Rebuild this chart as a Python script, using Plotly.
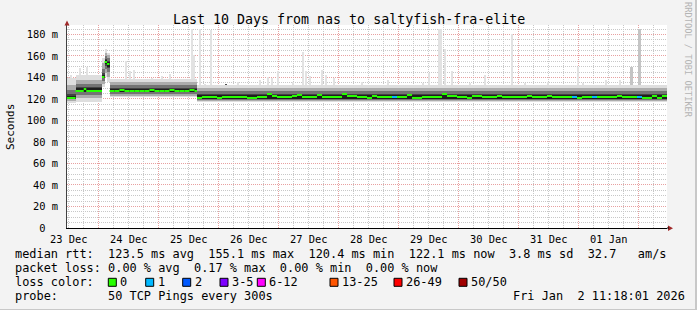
import plotly.graph_objects as go
import pandas as pd

# ---------------- data (hours after 2025-12-23 11:18:01) ----------------
START = "2025-12-23 11:18:01"
SPAN_H = 240

median_start_h = [0, 3.4, 6.7, 7.7, 14, 15, 16] + list(range(17, 52, 2)) + list(range(52, 240, 2))
median_ms = (
    [120.9, 127.35, 129.2, 127.35, 140.4, 154.3, 152.5]
    + [127.35, 127.35, 128.3, 127.35, 127.35, 127.35, 127.35, 127.35, 128.3, 127.35, 127.35,
       127.35, 128.3, 127.35, 127.35, 127.35, 128.3, 127.35]
    + [120.9, 121.8, 121.8, 121.8, 120.9, 121.8, 121.8, 121.8, 121.8, 121.8,
       120.9, 120.9, 121.8, 121.8, 124.6, 122.7, 121.8, 121.8, 121.8, 122.7,
       123.7, 121.8, 121.8, 121.8, 123.7, 121.8, 121.8, 121.8, 121.8, 124.6,
       122.7, 122.7, 121.8, 121.8, 120.9, 122.7, 121.8, 121.8, 121.8, 121.8,
       121.8, 121.8, 123.7, 120.9, 120.9, 121.8, 121.8, 121.8, 121.8, 124.6,
       122.7, 122.7, 121.8, 121.8, 120.9, 122.7, 122.7, 121.8, 121.8, 121.8,
       122.7, 121.8, 121.8, 121.8, 121.8, 121.8, 122.7, 121.8, 121.8, 121.8,
       122.7, 121.8, 121.8, 121.8, 121.8, 121.8, 120.9, 121.8, 121.8, 121.8,
       121.8, 121.8, 121.8, 121.8, 122.7, 121.8, 121.8, 121.8, 121.8, 120.9,
       120.9, 122.7, 120.9, 122.7]
)
loss1_start_h = [130, 202, 210, 228]   # bins with 1 lost ping

smoke_start_h = [0, 3.4, 14, 15, 16, 17, 52]
smoke_min = [116.5, 117.5, 131, 140, 136, 121.5, 117.5]
smoke_p10 = [118, 121, 134, 144, 140, 123, 118.5]
smoke_p25 = [119.5, 123.5, 137, 148, 145, 124.5, 119.3]
smoke_p40 = [120, 126, 139, 151, 149, 126, 120]
smoke_p45 = [120.3, 126.5, 139.5, 152.5, 150, 126.5, 120.3]
smoke_p55 = [123, 130, 142, 156, 154, 129.5, 123.8]
smoke_p60 = [124.5, 131, 144, 157.5, 155, 130.5, 125]
smoke_p75 = [128.5, 134, 148, 160, 158, 133, 127.8]
smoke_p90 = [133, 137.5, 153, 163, 161, 136, 130.2]
smoke_max = [139, 142, 158, 166, 163, 138.5, 133]

spike_h = [1.6, 5.2, 8, 23.6, 25.2, 26.8, 34, 38, 41.2, 45.2, 50, 50.8, 53.2, 55.2, 57.6, 63.6,
           68.4, 77.2, 80.4, 82, 84.4, 90.4, 94.4, 95.6, 97.2, 102, 103.6, 106.8, 118, 128.4,
           142.4, 144.8, 148.8, 149.6, 151.2, 154, 161.2, 167.2, 178, 183.2, 192.4, 204.4,
           206.4, 215.6, 221.2, 225.8, 229]
spike_top = [142.5, 149, 150, 155, 146, 147, 139, 141, 143, 138, 185, 161, 185, 134, 184, 134,
             136, 138, 140, 139, 146, 136, 164, 146, 141, 147, 142, 139, 136, 138,
             135, 144, 185, 185, 166, 146, 135, 142.5, 180, 135, 136, 150,
             135, 138, 138, 150, 185]
spike_kind = ["l"] * 15 + ["d"] + ["l"] * 29 + ["m", "m"]

loss_labels = ["0", "1", "2", "3-5", "6-12", "13-25", "26-49", "50/50"]
loss_colors = ["#26ff00", "#00b8ff", "#0059ff", "#7e00ff", "#ff00ff", "#ff5500", "#ff0000", "#a10000"]

y_tick_vals = [0, 20, 40, 60, 80, 100, 120, 140, 160, 180]
y_tick_text = ["0\u00a0\u00a0"] + [f"{v} m" for v in y_tick_vals[1:]]

title = "Last 10 Days from nas to saltyfish-fra-elite"
legend_lines = [
    "median rtt:  123.5 ms avg  155.1 ms max  120.4 ms min  122.1 ms now  3.8 ms sd  32.7   am/s",
    "packet loss: 0.00 % avg  0.17 % max  0.00 % min  0.00 % now",
    "loss color:",
    "probe:       50 TCP Pings every 300s",
]
stamp = "Fri Jan  2 11:18:01 2026"

# ---------------- geometry helpers ----------------
W, H = 697, 310
L, R, T, B = 67, 30, 25, 82
PW, PH = W - L - R, H - T - B
def pxx(x): return (x - L) / PW
def pyy(y): return (H - B - y) / PH

t0 = pd.Timestamp(START)
def ts(h): return t0 + pd.Timedelta(hours=h)
MS_H = 3600 * 1000

def ends_of(starts):
    return list(starts[1:]) + [SPAN_H]

def bar(starts, ends, lo, hi, color):
    return go.Bar(
        x=[ts((s + e) / 2) for s, e in zip(starts, ends)],
        y=[h - l for l, h in zip(lo, hi)], base=lo,
        width=[(e - s) * MS_H for s, e in zip(starts, ends)],
        marker=dict(color=color, line=dict(width=0)),
        hoverinfo="skip", showlegend=False)

fig = go.Figure()

# spikes (max ping outliers)
kind_col = {"l": "#e2e2e2", "m": "#c4c4c4", "d": "#505050"}
fig.add_trace(go.Bar(
    x=[ts(h) for h in spike_h], y=[t - 124 for t in spike_top], base=[124] * len(spike_h),
    width=[1.0 * MS_H] * len(spike_h),
    marker=dict(color=[kind_col[k] for k in spike_kind], line=dict(width=0)),
    hoverinfo="skip", showlegend=False))

se = ends_of(smoke_start_h)
fig.add_trace(bar(smoke_start_h, se, smoke_min, smoke_max, "#dedede"))
fig.add_trace(bar(smoke_start_h, se, smoke_p10, smoke_p90, "#acacac"))
fig.add_trace(bar(smoke_start_h, se, smoke_p25, smoke_p75, "#747474"))
fig.add_trace(bar(smoke_start_h, se, smoke_p40, smoke_p60, "#444444"))
fig.add_trace(bar(smoke_start_h, se, smoke_p45, smoke_p55, "#1e1e1e"))

# median line (colour = loss), horizontal pieces only
me = ends_of(median_start_h)
for loss_idx in (0, 1):
    xs, ys = [], []
    for s, e, v in zip(median_start_h, me, median_ms):
        if (s in loss1_start_h) == (loss_idx == 1):
            xs += [ts(s), ts(e), None]
            ys += [v, v, None]
    fig.add_trace(go.Scatter(x=xs, y=ys, mode="lines",
                             line=dict(color=loss_colors[loss_idx], width=2),
                             hoverinfo="skip", showlegend=False))

MONO = "DejaVu Sans Mono"
fig.update_layout(
    width=W, height=H, margin=dict(l=L, r=R, t=T, b=B, pad=0),
    paper_bgcolor="#f3f3f3", plot_bgcolor="#ffffff",
    barmode="overlay", bargap=0,
    font=dict(family=MONO, color="#000000"),
    xaxis=dict(
        type="date", range=[ts(0), ts(SPAN_H)],
        tick0="2025-12-23", dtick=86400000, ticklabelmode="period", tickformat="%d %b",
        showgrid=True, gridcolor="#e8a0a0", griddash="1px,1px", gridwidth=1,
        minor=dict(dtick=6 * MS_H, tick0="2025-12-23", showgrid=True,
                   gridcolor="#c8c8c8", griddash="1px,1px", gridwidth=1),
        showline=True, linecolor="#000000", linewidth=1,
        ticks="", tickfont=dict(size=10.4, family=MONO), ticklabelstandoff=2,
        zeroline=False, fixedrange=True),
    yaxis=dict(
        range=[0, PH / 1.0756],
        tickmode="array", tickvals=y_tick_vals, ticktext=y_tick_text,
        showgrid=True, gridcolor="#e8a0a0", griddash="1px,1px", gridwidth=1,
        minor=dict(tickmode="linear", tick0=0, dtick=5, showgrid=True,
                   gridcolor="#c8c8c8", griddash="1px,1px", gridwidth=1),
        showline=True, linecolor="#404040", linewidth=1,
        ticks="", tickfont=dict(size=10.4, family=MONO), ticklabelstandoff=6,
        zeroline=False, fixedrange=True),
)

def note(text, x, y, size, xanchor="left", color="#000000", angle=0):
    fig.add_annotation(text=text.replace(" ", "\u00a0"), x=pxx(x), y=pyy(y),
                       xref="paper", yref="paper", xanchor=xanchor, yanchor="middle",
                       showarrow=False, borderpad=0, textangle=angle,
                       font=dict(family=MONO, size=size, color=color))

note(title, 348.5, 19.3, 13.3, xanchor="center")
note("Seconds", 10, 127, 11, xanchor="center", angle=-90)
note("RRDTOOL / TOBI OETIKER", 688, 60, 8.7, xanchor="center", color="#b4b4b4", angle=90)
line_y = [254.3, 268.3, 282.3, 296.3]
for txt, yy in zip(legend_lines, line_y):
    note(txt, 14, yy, 11.9)
note(stamp, 512, 296.3, 11.9)

box_x = [108.3, 145.7, 182.7, 220, 257.3, 330, 394, 459]
for bx, lab, col in zip(box_x, loss_labels, loss_colors):
    fig.add_shape(type="rect", xref="paper", yref="paper",
                  x0=pxx(bx), x1=pxx(bx + 8), y0=pyy(286.3), y1=pyy(278.3),
                  fillcolor=col, line=dict(color="#000000", width=1))
    note(lab, bx + 11, 282.3, 11.9)

# axis arrows
fig.add_shape(type="path", xref="paper", yref="paper",
              path=f"M {pxx(64.5)} {pyy(25.5)} L {pxx(69.5)} {pyy(25.5)} L {pxx(67)} {pyy(20.5)} Z",
              fillcolor="#a02828", line=dict(color="#a02828", width=0))
fig.add_shape(type="path", xref="paper", yref="paper",
              path=f"M {pxx(668)} {pyy(225.5)} L {pxx(668)} {pyy(231)} L {pxx(673)} {pyy(228.2)} Z",
              fillcolor="#a02828", line=dict(color="#a02828", width=0))
fig.add_shape(type="line", xref="paper", yref="paper",
              x0=pxx(667), x1=pxx(669), y0=0, y1=0, line=dict(color="#000000", width=1))

# outer frame
fig.add_shape(type="rect", xref="paper", yref="paper", x0=pxx(0), x1=pxx(W), y0=pyy(H - 1), y1=pyy(H),
              fillcolor="#c8c8c8", line=dict(width=0), layer="above")
fig.add_shape(type="rect", xref="paper", yref="paper", x0=pxx(W - 2), x1=pxx(W), y0=pyy(H), y1=pyy(0),
              fillcolor="#c8c8c8", line=dict(width=0), layer="above")

fig.write_html("out.html", config={"displayModeBar": False})
